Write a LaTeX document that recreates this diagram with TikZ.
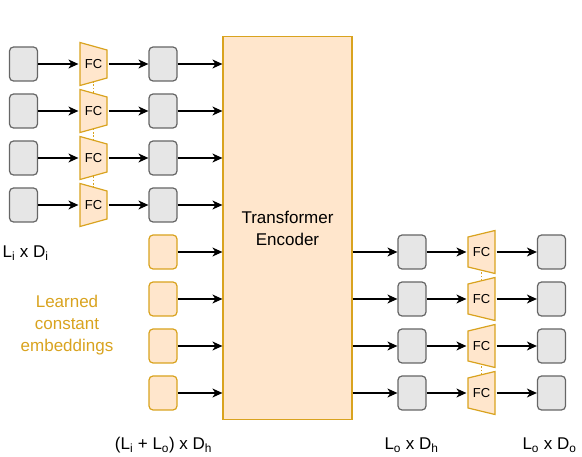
\documentclass[tikz,border=0pt]{standalone}
\usepackage{fontspec}
\setmainfont{Liberation Sans}
\usetikzlibrary{arrows.meta,positioning,backgrounds}
\definecolor{boxgray}{HTML}{E6E6E6}
\definecolor{boxedge}{HTML}{666666}
\definecolor{encfill}{HTML}{FFE6CC}
\definecolor{encedge}{HTML}{D9A31F}
\def\rowsep{47pt}
\def\colsep{70pt}
\tikzset{
  emb/.style={
    rectangle, rounded corners=4pt,
    minimum width=28pt, minimum height=34pt,
    inner sep=0pt,
    draw=boxedge, fill=boxgray
  },
  learned/.style={emb, draw=encedge, fill=encfill},
  enc/.style={
    rectangle, draw=encedge, fill=encfill,
    minimum width=129pt, minimum height=383pt,
    align=center, font=\fontsize{17}{22}\selectfont
  }
}
\tikzset{
  fcbase/.style={
    rectangle, inner sep=0pt,
    minimum width=29pt, minimum height=45pt,
    font=\fontsize{13}{15}\selectfont
  },
  % FC narrowing to the right
  fcdown/.style={
    fcbase,
    path picture={\filldraw[draw=encedge, fill=encfill]
      ([shift={(1,-1)}]path picture bounding box.north west) --
      ([shift={(-1,-8.5)}]path picture bounding box.north east) --
      ([shift={(-1,8.5)}]path picture bounding box.south east) --
      ([shift={(1,1)}]path picture bounding box.south west) -- cycle;}
  },
  % FC widening to the right
  fcup/.style={
    fcbase,
    path picture={\filldraw[draw=encedge, fill=encfill]
      ([shift={(1,-7.5)}]path picture bounding box.north west) --
      ([shift={(-1,-1)}]path picture bounding box.north east) --
      ([shift={(-1,1)}]path picture bounding box.south east) --
      ([shift={(1,7.5)}]path picture bounding box.south west) -- cycle;}
  },
  fcdots/.style={draw=encedge, line width=1.6pt, dash pattern=on 1.6pt off 1.8pt},
  dimlabel/.style={inner sep=0pt, font=\fontsize{17}{22}\selectfont}
}

\begin{document}
\begin{tikzpicture}[x=1pt, y=1pt, line width=1.2pt, >={Stealth[length=10pt, width=9pt, inset=3pt]}, node distance=\rowsep]
    \useasboundingbox (0,0) rectangle (582,456);

    %% Encoder
    \node[enc] (enc) at (287.5,228) {Transformer\\Encoder};

    %% Input sequence
    \node[emb] (in1) at (23.5,392) {};
    \node[emb, below of=in1] (in2) {};
    \node[emb, below of=in2] (in3) {};
    \node[emb, below of=in3] (in4) {};
    \node[fcdown, right of=in1, node distance=\colsep] (fa1) {FC};
    \node[fcdown, right of=in2, node distance=\colsep] (fa2) {FC};
    \node[fcdown, right of=in3, node distance=\colsep] (fa3) {FC};
    \node[fcdown, right of=in4, node distance=\colsep] (fa4) {FC};
    \node[emb, right of=fa1, node distance=69.5pt] (h1) {};
    \node[emb, right of=fa2, node distance=69.5pt] (h2) {};
    \node[emb, right of=fa3, node distance=69.5pt] (h3) {};
    \node[emb, right of=fa4, node distance=69.5pt] (h4) {};

    %% Learned constants
    \node[learned, below of=h4] (e1) {};
    \node[learned, below of=e1] (e2) {};
    \node[learned, below of=e2] (e3) {};
    \node[learned, below of=e3] (e4) {};

    %% Output sequence
    \node[emb] (o1) at (412,204) {};
    \node[emb, below of=o1] (o2) {};
    \node[emb, below of=o2] (o3) {};
    \node[emb, below of=o3] (o4) {};
    \node[fcup, right of=o1, node distance=69.5pt] (fb1) {FC};
    \node[fcup, right of=o2, node distance=69.5pt] (fb2) {FC};
    \node[fcup, right of=o3, node distance=69.5pt] (fb3) {FC};
    \node[fcup, right of=o4, node distance=69.5pt] (fb4) {FC};
    \node[emb, right of=fb1, node distance=\colsep] (y1) {};
    \node[emb, right of=fb2, node distance=\colsep] (y2) {};
    \node[emb, right of=fb3, node distance=\colsep] (y3) {};
    \node[emb, right of=fb4, node distance=\colsep] (y4) {};

    %% Labels
    \node[dimlabel, anchor=west] (lin) at (2,203) {L\textsubscript{i} x D\textsubscript{i}};
    \node[dimlabel, align=center, text=encedge] (lconst) at (67,131) {Learned\\constant\\embeddings};
    \node[dimlabel, anchor=base] (lhid) at (163.5,6) {(L\textsubscript{i} + L\textsubscript{o}) x D\textsubscript{h}};
    \node[dimlabel, anchor=base] (lout) at (411.5,6) {L\textsubscript{o} x D\textsubscript{h}};
    \node[dimlabel, anchor=base] (lres) at (549.5,6) {L\textsubscript{o} x D\textsubscript{o}};

    %% Shared FC weights
    \begin{scope}[on background layer]
      \draw[fcdots] (fa1.center) -- (fa4.center);
      \draw[fcdots] (fb1.center) -- (fb2.center);
      \draw[fcdots] (fb3.center) -- (fb4.center);
    \end{scope}

    %% Edges
    \draw[->] (in1) -- (fa1);
    \draw[->] (in2) -- (fa2);
    \draw[->] (in3) -- (fa3);
    \draw[->] (in4) -- (fa4);
    \draw[->] (fa1) -- (h1);
    \draw[->] (fa2) -- (h2);
    \draw[->] (fa3) -- (h3);
    \draw[->] (fa4) -- (h4);
    \draw[->] (h1) -- (h1 -| enc.west);
    \draw[->] (h2) -- (h2 -| enc.west);
    \draw[->] (h3) -- (h3 -| enc.west);
    \draw[->] (h4) -- (h4 -| enc.west);
    \draw[->] (e1) -- (e1 -| enc.west);
    \draw[->] (e2) -- (e2 -| enc.west);
    \draw[->] (e3) -- (e3 -| enc.west);
    \draw[->] (e4) -- (e4 -| enc.west);
    \draw[->] (enc.east |- o1) -- (o1);
    \draw[->] (enc.east |- o2) -- (o2);
    \draw[->] (enc.east |- o3) -- (o3);
    \draw[->] (enc.east |- o4) -- (o4);
    \draw[->] (o1) -- (fb1);
    \draw[->] (o2) -- (fb2);
    \draw[->] (o3) -- (fb3);
    \draw[->] (o4) -- (fb4);
    \draw[->] (fb1) -- (y1);
    \draw[->] (fb2) -- (y2);
    \draw[->] (fb3) -- (y3);
    \draw[->] (fb4) -- (y4);
\end{tikzpicture}
\end{document}
